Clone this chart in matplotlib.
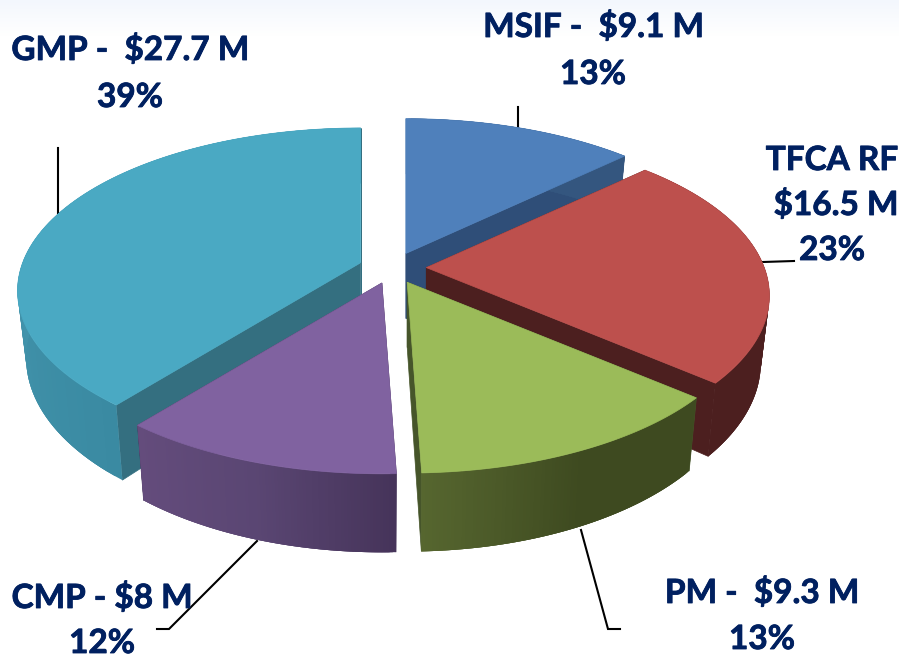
import numpy as np
import matplotlib
matplotlib.use("Agg")
import matplotlib.pyplot as plt
import matplotlib.patheffects as pe
from matplotlib.colors import to_rgb

# ---- data ----
names = ["MSIF", "TFCA RF", "PM", "CMP", "GMP"]
amounts = [9.1, 16.5, 9.3, 8.0, 27.7]
percents = ["13%", "23%", "13%", "12%", "39%"]

# ---- style ----
top_colors = ["#4f80bb", "#bd504d", "#9bbb59", "#8062a0", "#4aa9c3"]
side_colors = ["#2f4e78", "#4c1f1f", "#46552a", "#46345a", "#346f80"]
wall_start = ["#34567f", "#4c1f1f", "#3e4a20", "#46345a", "#3a8aa2"]
wall_mid = ["#34567f", "#4c1f1f", "#3e4a20", "#5a4673", "#4698b0"]
wall_end = ["#34567f", "#4c1f1f", "#56662f", "#644c7c", "#4a9ab2"]
draw_order = [0, 1, 4, 3, 2]
text_color = "#002060"
font = "Lato"

# projection of the pie
CX, CY = 392.5, 268
RX, RY = 338.0, 158.0
PERSP = 0.172
EXPLODE = 0.1
DEPTH = 65.0
BOTTOM_SCALE = 0.975


def project(theta, apex, bottom=False):
    X, Y = np.sin(theta), np.cos(theta)
    s = 1.0 / (1.0 + PERSP * Y)
    x = apex[0] + X * RX * s * (BOTTOM_SCALE if bottom else 1.0)
    y = apex[1] - Y * RY * s
    if bottom:
        y = y + DEPTH * s
    return x, y


def lerp(a, b, t):
    a, b = np.array(to_rgb(a)), np.array(to_rgb(b))
    return tuple(a + (b - a) * t)


fig = plt.figure(figsize=(8.99, 6.57), dpi=100, facecolor="white")
ax = fig.add_axes([0, 0, 1, 1])
ax.axis("off")

# faint band at the top of the slide
base = np.array(to_rgb("#f3f7fd"))
band = base + np.linspace(0, 1, 40)[:, None, None] * (1 - base)
ax.imshow(band, extent=[0, 899, 36, 0], aspect="auto", zorder=0)
ax.set_xlim(0, 899)
ax.set_ylim(657, 0)

# leader lines
leaders = [
    [(518, 107), (518, 130)],
    [(58, 148), (58, 214)],
    [(763, 262), (794, 261)],
    [(581, 530), (608, 629), (620, 629)],
    [(257, 541), (169, 629), (157, 629)],
]
for pts in leaders:
    xs, ys = zip(*pts)
    ax.plot(xs, ys, color="black", lw=1.5, zorder=1, solid_joinstyle="miter")

fractions = np.array(amounts) / np.sum(amounts)
edges = np.concatenate([[0], np.cumsum(fractions)]) * 2 * np.pi

z = 2
for i in draw_order:
    a0, a1 = edges[i], edges[i + 1]
    mid = 0.5 * (a0 + a1)
    apex = (CX + EXPLODE * RX * np.sin(mid), CY - EXPLODE * RY * np.cos(mid))
    apex_b = (apex[0], apex[1] + DEPTH)
    th = np.linspace(a0, a1, 90)

    # flat cut faces
    for a in (a0, a1):
        tx, ty = project(a, apex)
        bx, by = project(a, apex, bottom=True)
        ax.fill([apex[0], tx, bx, apex_b[0]], [apex[1], ty, by, apex_b[1]],
                color=side_colors[i], lw=0.5, zorder=z)
    z += 1

    # curved outer wall, shaded in overlapping strips
    for j in range(len(th) - 1):
        t = j / (len(th) - 2)
        col = lerp(wall_start[i], wall_mid[i], t * 2) if t < 0.5 else lerp(wall_mid[i], wall_end[i], t * 2 - 1)
        seg = th[j:j + 4]
        tx, ty = project(seg, apex)
        bx, by = project(seg, apex, bottom=True)
        ax.fill(np.r_[tx, bx[::-1]], np.r_[ty, by[::-1]], color=col, lw=0, zorder=z)
        z += 0.001
    z = np.ceil(z)

    # top face
    tx, ty = project(th, apex)
    ax.fill(np.r_[apex[0], tx], np.r_[apex[1], ty], color=top_colors[i], lw=0.5, zorder=z)
    z += 1

# labels
label_lines = [
    (593.5, 37, f"{names[0]} -  ${amounts[0]:.1f} M"), (593, 84, percents[0]),
    (832, 170, names[1]), (836, 215, f"${amounts[1]:.1f} M"), (832, 260, percents[1]),
    (762, 603, f"{names[2]} -  ${amounts[2]:.1f} M"), (762, 649, percents[2]),
    (102, 608, f"{names[3]} - ${amounts[3]:.0f} M"), (102, 653, percents[3]),
    (130, 60, f"{names[4]} -  ${amounts[4]:.1f} M"), (130, 107, percents[4]),
]
for x, y, s in label_lines:
    t = ax.text(x, y, s, ha="center", va="baseline", color=text_color, family=font,
                fontweight="bold", fontsize=24, zorder=z + 1)
    t.set_path_effects([pe.withStroke(linewidth=0.6, foreground=text_color)])

fig.savefig("out.png", dpi=100)
